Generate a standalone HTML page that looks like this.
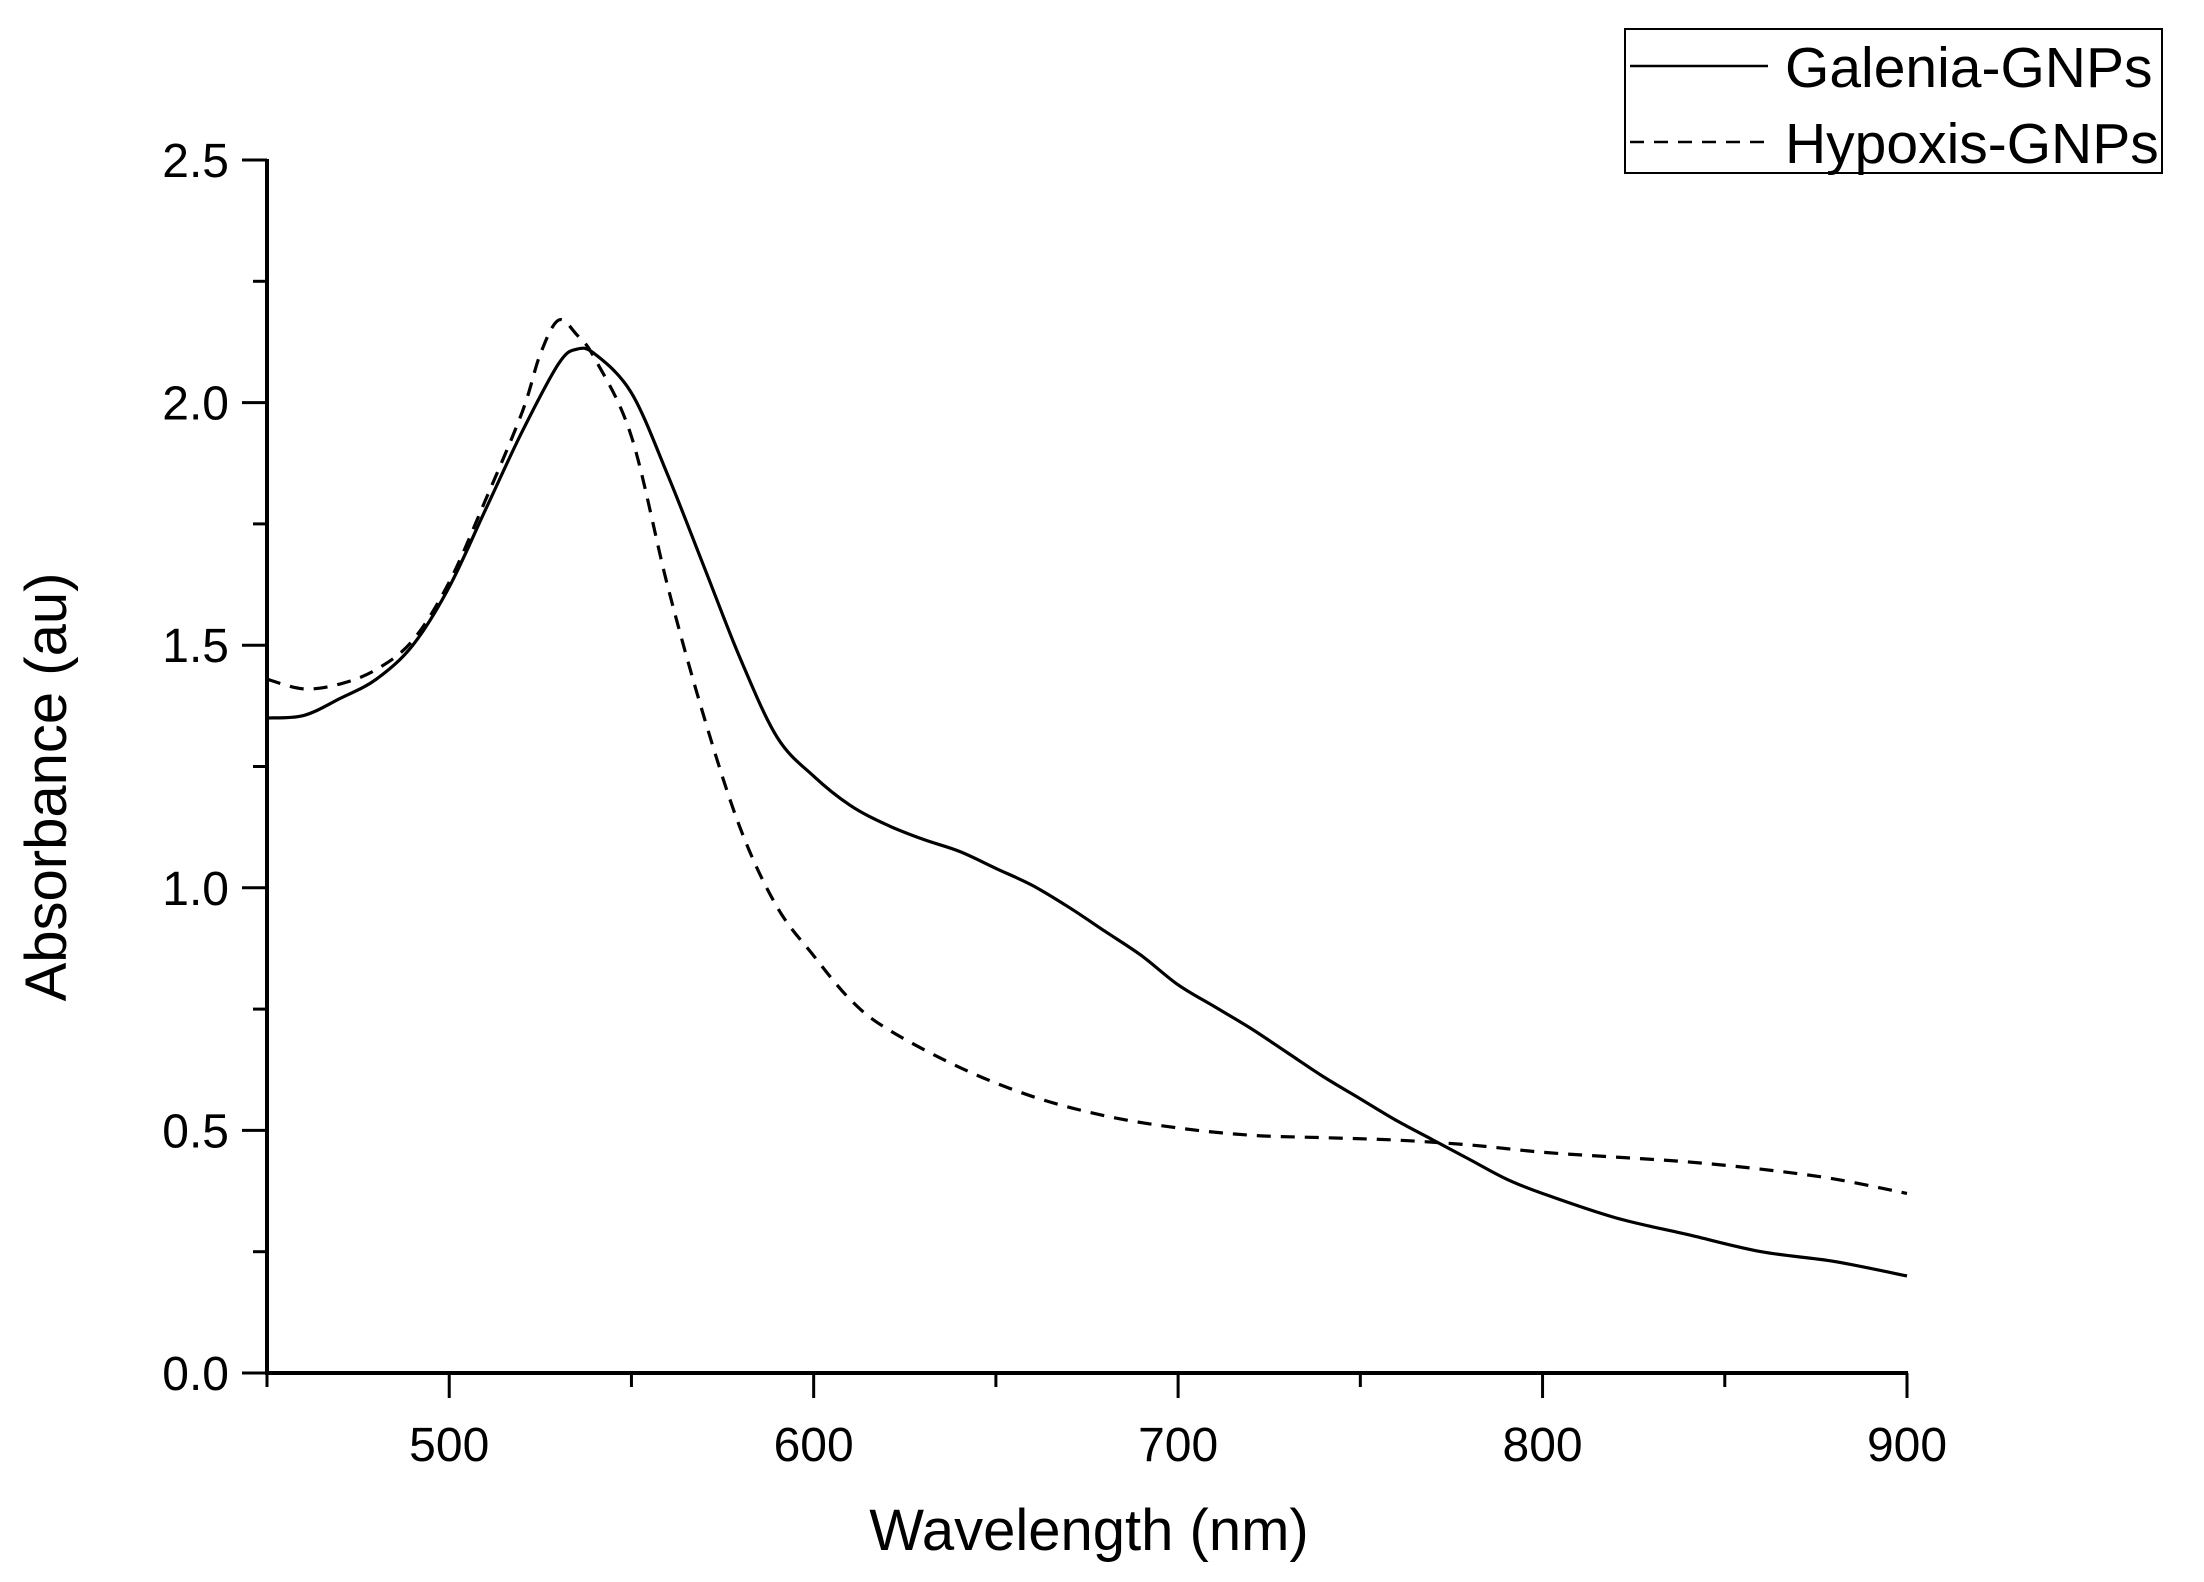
<!DOCTYPE html>
<html><head><meta charset="utf-8"><style>
html,body{margin:0;padding:0;background:#fff;}
svg{display:block;font-family:"Liberation Sans",Arial,sans-serif;}
</style></head><body>
<svg id="chart" width="2204" height="1582" viewBox="0 0 2204 1582">
<g id="axes"></g>
<g id="series"></g>
<text x="1089" y="1550" font-size="58" text-anchor="middle">Wavelength (nm)</text>
<text transform="translate(66,787) rotate(-90)" font-size="58" text-anchor="middle">Absorbance (au)</text>
<g>
<rect x="1625" y="29" width="537" height="144" fill="#fff" stroke="#000" stroke-width="2"/>
<line x1="1630" y1="66" x2="1768" y2="66" stroke="#000" stroke-width="2.5"/>
<text x="1785" y="87" font-size="57">Galenia-GNPs</text>
<line x1="1630" y1="142" x2="1768" y2="142" stroke="#000" stroke-width="2.5" stroke-dasharray="14,10"/>
<text x="1785" y="163" font-size="57">Hypoxis-GNPs</text>
</g>
</svg>
<script>
const galeniaX=[450,460,470,480,490,500,510,520,530,535,540,550,560,570,580,590,600,610,620,630,640,650,660,670,680,690,700,710,720,730,740,750,760,770,780,790,800,820,840,860,880,900];
const galeniaY=[1.35,1.355,1.39,1.43,1.50,1.62,1.78,1.94,2.08,2.11,2.10,2.02,1.85,1.66,1.47,1.31,1.23,1.17,1.13,1.10,1.075,1.04,1.005,0.96,0.91,0.86,0.80,0.755,0.71,0.66,0.61,0.565,0.52,0.48,0.44,0.40,0.37,0.32,0.285,0.25,0.23,0.20];
const hypoxisX=[450,460,470,480,490,500,510,520,525,530,535,540,550,560,570,580,590,600,610,620,640,660,680,700,720,740,760,780,800,820,840,860,880,900];
const hypoxisY=[1.43,1.41,1.42,1.45,1.51,1.63,1.80,1.98,2.10,2.17,2.14,2.09,1.93,1.62,1.35,1.12,0.96,0.86,0.77,0.71,0.63,0.57,0.53,0.505,0.49,0.485,0.48,0.47,0.455,0.445,0.435,0.42,0.40,0.37];
const xTicks=[500,600,700,800,900];
const xMinor=[450,550,650,750,850];
const yTicks=[0.0,0.5,1.0,1.5,2.0,2.5];
const yMinor=[0.25,0.75,1.25,1.75,2.25];
const X0=267,X1=1907,Y0=1373,Y1=160;
const sx=v=>X0+(v-450)/450*(X1-X0);
const sy=v=>Y0-v/2.5*(Y0-Y1);
const NS='http://www.w3.org/2000/svg';
const axes=document.getElementById('axes');
function mk(tag,attrs,parent){const e=document.createElementNS(NS,tag);for(const k in attrs)e.setAttribute(k,attrs[k]);parent.appendChild(e);return e;}
let e;
e=mk('line',{x1:X0,y1:Y0,x2:X1+1,y2:Y0,stroke:'#000','stroke-width':4},axes);


e=mk('line',{x1:X0,y1:Y1-1,x2:X0,y2:Y0+2,stroke:'#000','stroke-width':4},axes);


xTicks.forEach(v=>{
 e=mk('line',{x1:sx(v),y1:Y0,x2:sx(v),y2:Y0+25,stroke:'#000','stroke-width':3},axes);
 
 
 e=mk('text',{x:sx(v),y:Y0+88,'font-size':48,'text-anchor':'middle'},axes);e.textContent=v;
 
 
});
xMinor.forEach(v=>{
 e=mk('line',{x1:sx(v),y1:Y0,x2:sx(v),y2:Y0+14,stroke:'#000','stroke-width':3},axes);
 
 
});
yTicks.forEach(v=>{
 e=mk('line',{x1:X0-25,y1:sy(v),x2:X0,y2:sy(v),stroke:'#000','stroke-width':3},axes);
 
 
 e=mk('text',{x:X0-38,y:sy(v)+17,'font-size':48,'text-anchor':'end'},axes);e.textContent=v.toFixed(1);
 
 
});
yMinor.forEach(v=>{
 e=mk('line',{x1:X0-14,y1:sy(v),x2:X0,y2:sy(v),stroke:'#000','stroke-width':3},axes);
 
 
});
function pathD(xs,ys){
 const p=xs.map((x,i)=>[sx(x),sy(ys[i])]);
 let d='M'+p[0][0]+','+p[0][1];
 for(let i=0;i<p.length-1;i++){
  const a=p[i-1]||p[i],b=p[i],c=p[i+1],f=p[i+2]||c;
  const c1=[b[0]+(c[0]-a[0])/6,b[1]+(c[1]-a[1])/6],c2=[c[0]-(f[0]-b[0])/6,c[1]-(f[1]-b[1])/6];
  d+=' C'+c1+' '+c2+' '+c;
 }
 return d;
}
const series=document.getElementById('series');
e=mk('path',{d:pathD(galeniaX,galeniaY),fill:'none',stroke:'#000','stroke-width':3.2},series);


e=mk('path',{d:pathD(hypoxisX,hypoxisY),fill:'none',stroke:'#000','stroke-width':3.2,'stroke-dasharray':'14,10'},series);


</script>
</body></html>
